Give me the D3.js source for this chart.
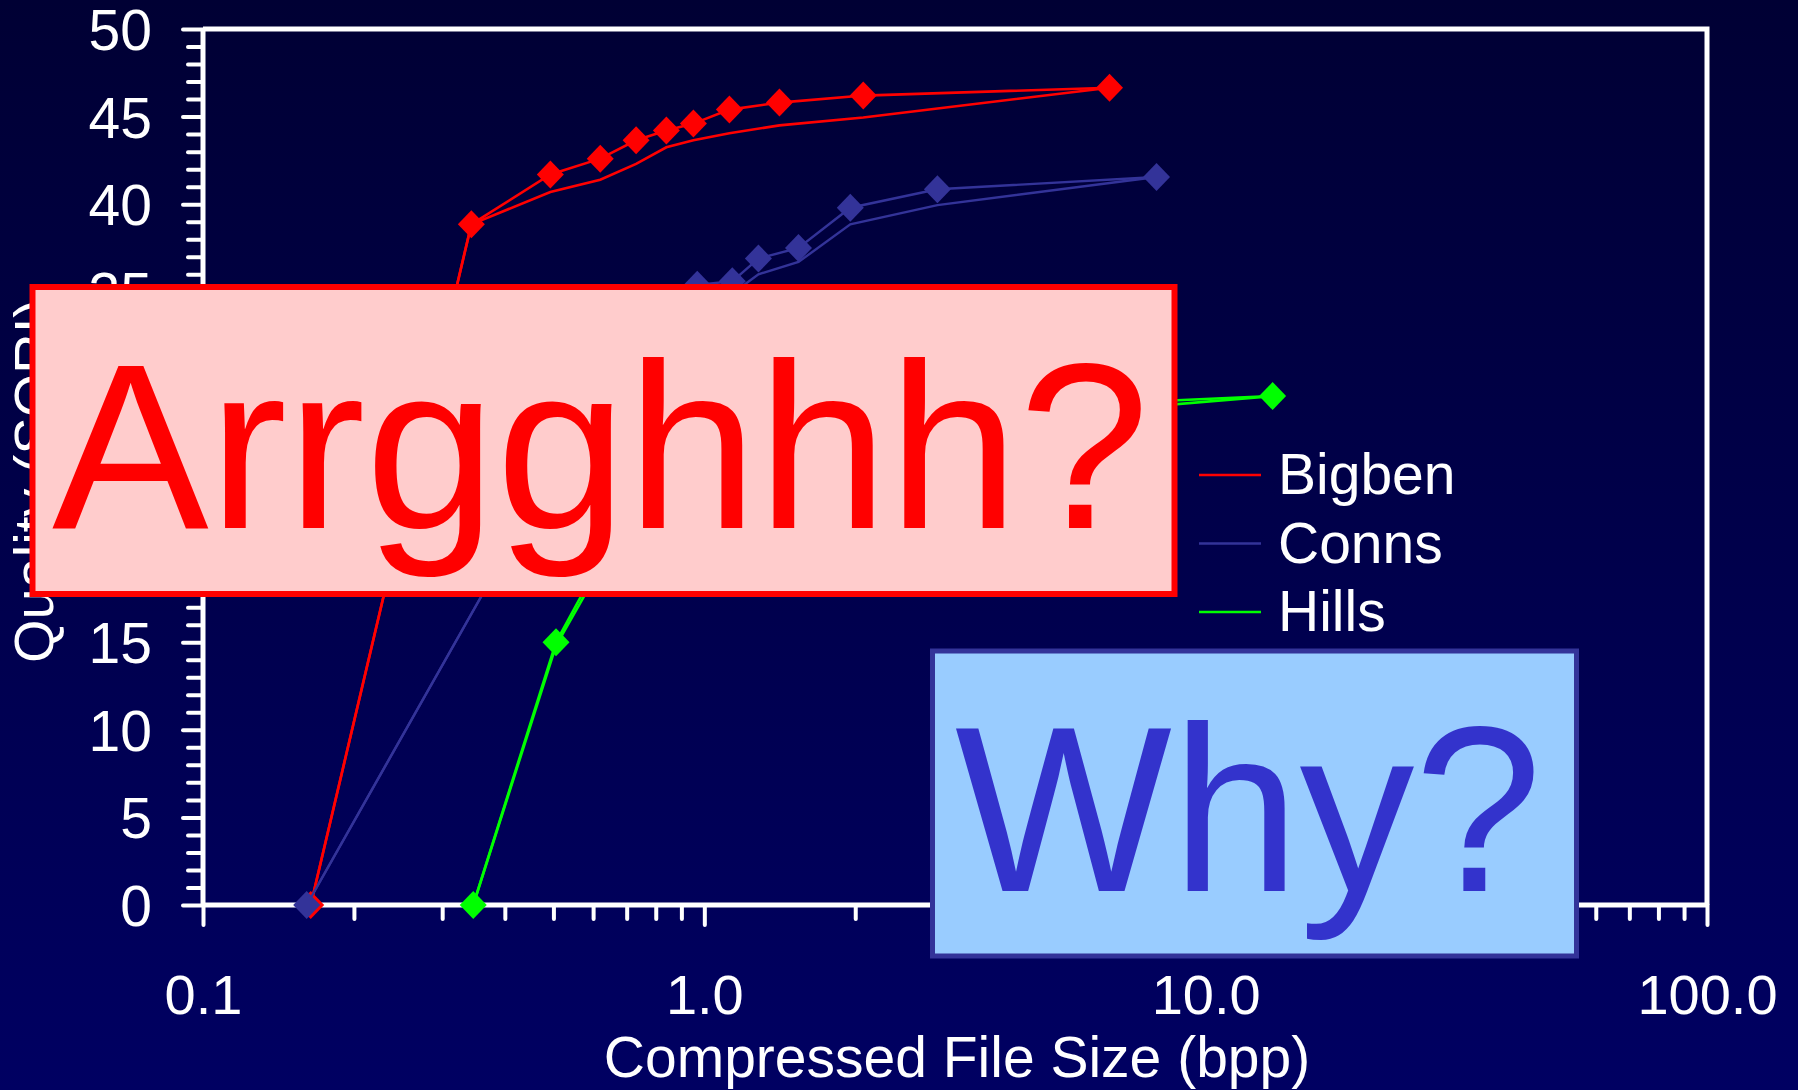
<!DOCTYPE html>
<html><head><meta charset="utf-8">
<script src="https://cdn.jsdelivr.net/npm/d3@7"></script>
<style>html,body{margin:0;padding:0;background:#00003a;overflow:hidden}</style>
</head><body>
<svg id="c" width="1798" height="1090"></svg>
<script>
// ---------- data ----------
const seriesNames = ["Bigben", "Conns", "Hills"];
const seriesColors = ["#ff0000", "#333399", "#00ff00"];

const bigbenX      = [0.164, 0.343, 0.493, 0.620, 0.731, 0.840, 0.951, 1.122, 1.412, 2.075, 6.43];
const bigbenMarked = [0, 38.85, 41.7, 42.6, 43.65, 44.2, 44.6, 45.4, 45.8, 46.2, 46.65];
const bigbenPlain  = [0, 38.85, 40.7, 41.4, 42.3, 43.25, 43.65, 44.05, 44.5, 44.95, 46.65];

const connsX      = [0.161, 0.48, 0.60, 0.74, 0.86, 0.968, 1.137, 1.282, 1.541, 1.955, 2.917, 7.98];
const connsMarked = [0, 24.0, 28.5, 31.5, 33.8, 35.4, 35.6, 36.9, 37.5, 39.8, 40.85, 41.55];
const connsPlain  = [0, 24.0, 27.8, 30.8, 33.0, 34.3, 34.9, 36.0, 36.7, 38.85, 39.95, 41.55];

const hillsX      = [0.346, 0.506, 0.63, 0.92, 1.5, 2.6, 5.0, 13.6];
const hillsMarked = [0, 15.0, 20.0, 23.5, 25.8, 27.2, 28.5, 29.05];
const hillsPlain  = [0, 14.8, 19.6, 22.8, 25.0, 26.5, 28.0, 29.05];

const xMajorTicks = [0.1, 1, 10, 100];
const xTickLabels = ["0.1", "1.0", "10.0", "100.0"];
const xMinorTicks = [0.2,0.3,0.4,0.5,0.6,0.7,0.8,0.9, 2,3,4,5,6,7,8,9, 20,30,40,50,60,70,80,90];
const yMajorTicks = [0, 5, 10, 15, 20, 25, 30, 35, 40, 45, 50];
const yMinorTicks = d3.range(0, 51, 1).filter(v => v % 5 !== 0);

const xTitle = "Compressed File Size (bpp)";
const yTitle = "Quality (SQRI)";
const note1 = "Arrgghhh?";
const note2 = "Why?";

// ---------- layout ----------
const W = 1798, H = 1090;
const plot = {left: 203, right: 1707, top: 29, bottom: 905};
const FONT = "'Liberation Sans', Arial, Helvetica, sans-serif";

const svg = d3.select("#c");
const defs = svg.append("defs");
const grad = defs.append("linearGradient").attr("id", "bg").attr("x1", 0).attr("y1", 0).attr("x2", 0).attr("y2", 1);
grad.append("stop").attr("offset", "0%").attr("stop-color", "#000034");
grad.append("stop").attr("offset", "100%").attr("stop-color", "#000062");
svg.append("rect").attr("width", W).attr("height", H).attr("fill", "url(#bg)");

const x = d3.scaleLog().domain([0.1, 100]).range([plot.left, plot.right]);
const y = d3.scaleLinear().domain([0, 50]).range([plot.bottom, plot.top]);

// frame (top and right)
svg.append("path")
  .attr("d", `M${plot.left},${plot.top}H${plot.right}V${plot.bottom}`)
  .attr("fill", "none").attr("stroke", "#ffffff").attr("stroke-width", 5);

function styleAxis(g, w) {
  g.select(".domain").remove();
  g.selectAll(".tick line").attr("stroke", "#ffffff").attr("stroke-width", w).attr("stroke-linecap", "round");
  g.selectAll(".tick text").attr("fill", "#ffffff").attr("font-family", FONT);
}

// x axis minor + major
const gxMin = svg.append("g").attr("transform", `translate(0,${plot.bottom})`)
  .call(d3.axisBottom(x).tickValues(xMinorTicks).tickSize(14).tickSizeOuter(0).tickFormat(""));
styleAxis(gxMin, 4);
const gxMaj = svg.append("g").attr("transform", `translate(0,${plot.bottom})`)
  .call(d3.axisBottom(x).tickValues(xMajorTicks).tickSize(20).tickSizeOuter(0).tickPadding(89)
    .tickFormat((d, i) => xTickLabels[i]));
styleAxis(gxMaj, 4);
gxMaj.selectAll(".tick text").attr("font-size", 56).attr("dy", "0");

// y axis minor + major
const gyMin = svg.append("g").attr("transform", `translate(${plot.left},0)`)
  .call(d3.axisLeft(y).tickValues(yMinorTicks).tickSize(15).tickSizeOuter(0).tickFormat(""));
styleAxis(gyMin, 4);
const gyMaj = svg.append("g").attr("transform", `translate(${plot.left},0)`)
  .call(d3.axisLeft(y).tickValues(yMajorTicks).tickSize(20).tickSizeOuter(0).tickPadding(31));
styleAxis(gyMaj, 4);
gyMaj.selectAll(".tick text").attr("font-size", 57).attr("dy", "0.36em");

// axis lines
svg.append("line").attr("x1", plot.left).attr("x2", plot.right).attr("y1", plot.bottom).attr("y2", plot.bottom)
  .attr("stroke", "#ffffff").attr("stroke-width", 5);
svg.append("line").attr("x1", plot.left).attr("x2", plot.left).attr("y1", plot.top).attr("y2", plot.bottom)
  .attr("stroke", "#ffffff").attr("stroke-width", 5);

// axis titles
svg.append("text").attr("x", 957).attr("y", 1077).attr("text-anchor", "middle")
  .attr("font-family", FONT).attr("font-size", 57).attr("fill", "#ffffff").text(xTitle);
svg.append("text").attr("transform", "translate(53,481) rotate(-90)").attr("text-anchor", "middle")
  .attr("font-family", FONT).attr("font-size", 56).attr("fill", "#ffffff").text(yTitle);

// ---------- series ----------
const series = [
  {name: seriesNames[0], color: seriesColors[0], xs: bigbenX, marked: bigbenMarked, plain: bigbenPlain, w: 2.6},
  {name: seriesNames[1], color: seriesColors[1], xs: connsX,  marked: connsMarked,  plain: connsPlain,  w: 2.4},
  {name: seriesNames[2], color: seriesColors[2], xs: hillsX,  marked: hillsMarked,  plain: hillsPlain,  w: 2.6}
];
const line = d3.line().x(d => x(d[0])).y(d => y(d[1]));

// plain lines (legend series)
series.forEach(s => {
  svg.append("path").datum(s.xs.map((v, i) => [v, s.plain[i]]))
    .attr("d", line).attr("fill", "none").attr("stroke", s.color).attr("stroke-width", s.w);
});
// marked lines
const diamond = "M0,-14L13.5,0L0,14L-13.5,0Z";
series.forEach(s => {
  const pts = s.xs.map((v, i) => [v, s.marked[i]]);
  svg.append("path").datum(pts)
    .attr("d", line).attr("fill", "none").attr("stroke", s.color).attr("stroke-width", s.w);
  svg.append("g").selectAll("path").data(pts).join("path")
    .attr("transform", d => `translate(${x(d[0])},${y(d[1])})`)
    .attr("d", diamond).attr("fill", s.color);
});

// legend
const legend = svg.append("g");
series.forEach((s, i) => {
  const cy = 475 + i * 68.5;
  legend.append("line").attr("x1", 1199).attr("x2", 1261).attr("y1", cy).attr("y2", cy)
    .attr("stroke", s.color).attr("stroke-width", 2.6);
  legend.append("text").attr("x", 1278).attr("y", cy + 19).attr("font-family", FONT)
    .attr("font-size", 57).attr("fill", "#ffffff").text(s.name);
});

// ---------- callout boxes ----------
svg.append("rect").attr("x", 32.5).attr("y", 287).attr("width", 1142).attr("height", 307)
  .attr("fill", "#ffcccc").attr("stroke", "#ff0000").attr("stroke-width", 6);
svg.append("text").attr("x", 52).attr("y", 528).attr("font-family", FONT).attr("font-size", 235)
  .attr("fill", "#ff0000").text(note1);

svg.append("rect").attr("x", 932.5).attr("y", 651).attr("width", 644).attr("height", 305)
  .attr("fill", "#99ccff").attr("stroke", "#333399").attr("stroke-width", 5);
svg.append("text").attr("x", 955).attr("y", 891).attr("font-family", FONT).attr("font-size", 235)
  .attr("textLength", 587).attr("lengthAdjust", "spacingAndGlyphs")
  .attr("fill", "#3333cc").text(note2);
</script>
</body></html>
